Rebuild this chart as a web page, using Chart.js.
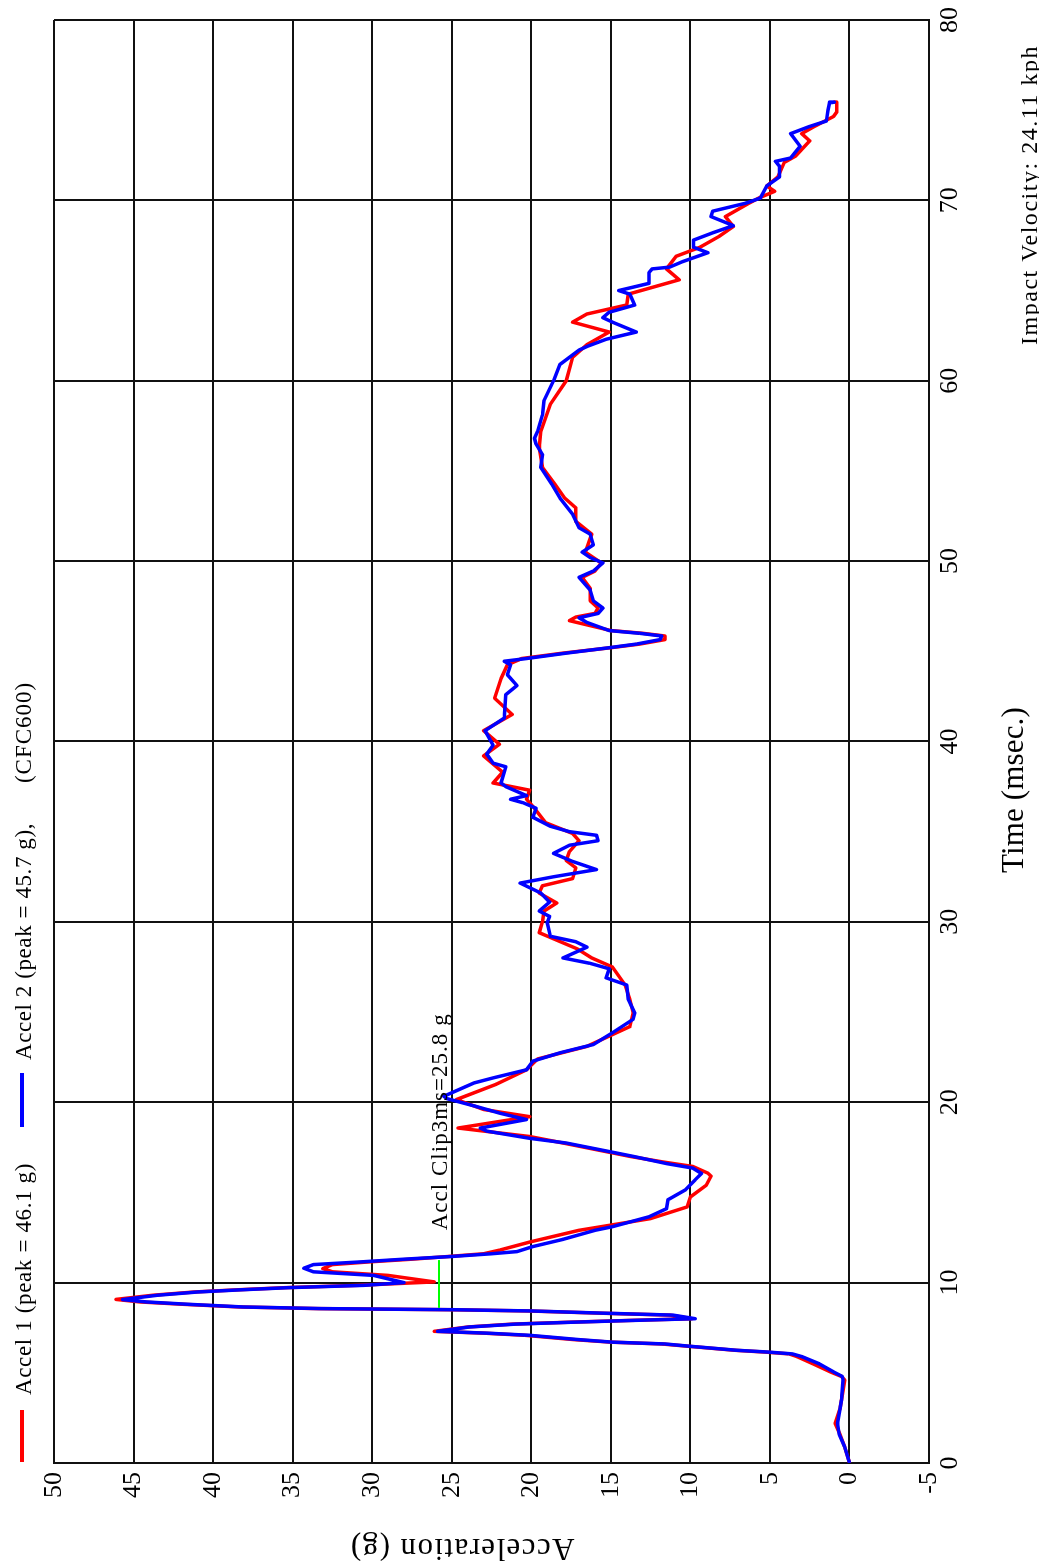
<!DOCTYPE html>
<html>
<head>
<meta charset="utf-8">
<script src="https://cdn.jsdelivr.net/npm/chart.js@4.4.1/dist/chart.umd.min.js"></script>
<style>
  html, body { margin: 0; padding: 0; background: #fff; overflow: hidden; }
  /* the chart is drawn landscape, then turned a quarter counter-clockwise */
  #frame {
    position: absolute; left: 0; top: 0;
    width: 1566px; height: 1039px;
    transform-origin: 0 0;
    transform: translateY(1566px) rotate(-90deg);
  }
</style>
</head>
<body>
<div id="frame"><canvas id="chart" width="1566" height="1039"></canvas></div>
<script>
// [time ms, acceleration g]
const accel1 = [
  [0, 0], [0.9, 0.3], [1.6, 0.6], [2.2, 0.9], [3.0, 0.6], [3.5, 0.5], [4.6, 0.3], [4.8, 0.5],
  [5.05, 1.2], [5.5, 2.3], [5.9, 3.3], [6.05, 3.8], [6.15, 5.3], [6.25, 7.2], [6.47, 10.1],
  [6.6, 11.8], [6.7, 15.0], [6.84, 17.3], [7.08, 20.4], [7.2, 23.0], [7.3, 26.1], [7.54, 24.0],
  [7.7, 21.2], [7.8, 17.8], [7.9, 14.0], [8.0, 9.9], [8.2, 11.3], [8.3, 15.4], [8.43, 20.2],
  [8.5, 25.2], [8.56, 33.4], [8.65, 38.3], [8.8, 41.9], [8.93, 44.6], [9.07, 46.1], [9.3, 43.8],
  [9.48, 41.2], [9.6, 38.5], [9.72, 35.5], [9.85, 30.9], [10.04, 26.1], [10.4, 29.0],
  [10.6, 32.5], [10.78, 33.1], [11.0, 32.5], [11.15, 30.2], [11.3, 27.5], [11.45, 25.2],
  [11.6, 23.0], [11.8, 22.0], [12.25, 20.1], [12.9, 17.0], [13.55, 12.5], [14.2, 10.2],
  [14.75, 10.0], [15.4, 9.0], [15.9, 8.7], [16.07, 8.9], [16.44, 9.85], [16.7, 11.8],
  [17.0, 13.8], [17.3, 15.5], [17.74, 18.0], [18.1, 20.1], [18.57, 24.6], [19.2, 20.1],
  [19.6, 23.0], [20.15, 24.7], [21.0, 22.2], [21.8, 20.3], [22.4, 19.6], [23.1, 16.5],
  [24.2, 13.8], [24.96, 13.6], [25.7, 13.8], [26.5, 14.1], [27.5, 14.9], [28.0, 16.2],
  [28.5, 17.1], [29.4, 19.5], [30.0, 19.3], [30.6, 19.2], [31.05, 18.4], [31.6, 19.5],
  [32.0, 19.3], [32.4, 17.4], [33.0, 17.2], [33.4, 17.8], [33.9, 17.6], [34.5, 17.0],
  [34.9, 17.4], [35.5, 19.1], [36.3, 19.8], [36.8, 20.3], [37.3, 20.1], [37.7, 22.4],
  [38.3, 21.8], [39.2, 23.0], [39.85, 22.0], [40.6, 23.0], [41.5, 21.2], [42.4, 22.3],
  [43.5, 21.9], [44.25, 21.5], [44.6, 20.6], [44.9, 18.0], [45.2, 15.0], [45.4, 13.2],
  [45.65, 11.6], [45.85, 11.6], [46.0, 13.0], [46.15, 15.0], [46.7, 17.6], [46.9, 17.2],
  [47.1, 16.0], [47.4, 15.8], [47.8, 16.3], [48.5, 16.3], [49.1, 16.8], [49.45, 16.0],
  [49.9, 15.6], [50.5, 16.6], [51.5, 16.2], [52.2, 17.2], [52.95, 17.2], [53.5, 17.9],
  [54.25, 18.5], [55.2, 19.3], [56.3, 19.5], [57.2, 19.4], [58.7, 18.8], [60.0, 17.8],
  [61.3, 17.4], [62.0, 16.5], [62.7, 15.1], [63.25, 17.4], [63.7, 16.5], [64.2, 14.0],
  [64.8, 13.9], [65.6, 10.7], [66.2, 11.5], [66.9, 10.9], [67.4, 9.4], [68.0, 8.2],
  [68.55, 7.3], [69.1, 7.8], [69.85, 6.3], [70.13, 5.7], [70.5, 4.7], [70.8, 5.2],
  [71.3, 4.5], [72.1, 4.1], [72.45, 3.4], [73.3, 2.5], [73.7, 3.0], [74.1, 2.2],
  [74.65, 1.0], [74.9, 0.8], [75.4, 0.8], [75.45, 1.0],
];

const accel2 = [
  [0, 0], [0.9, 0.3], [1.6, 0.65], [2.2, 0.75], [3.0, 0.6], [3.5, 0.5], [4.6, 0.4], [4.8, 0.45],
  [5.05, 1.0], [5.5, 1.9], [5.9, 3.0], [6.05, 3.6], [6.15, 5.1], [6.25, 7.1], [6.47, 10],
  [6.6, 11.6], [6.7, 14.9], [6.84, 17], [7.08, 20.1], [7.2, 22.8], [7.3, 25.9], [7.54, 23.9],
  [7.7, 21], [7.8, 17.6], [7.9, 13.8], [8.0, 9.7], [8.2, 11.1], [8.3, 15.2], [8.43, 20],
  [8.5, 25], [8.56, 33.2], [8.65, 38.1], [8.8, 41.6], [8.93, 44.2], [9.06, 45.7], [9.3, 43.5],
  [9.48, 41], [9.6, 38.3], [9.72, 35.3], [9.85, 30.5], [10.0, 28.0], [10.4, 29.9],
  [10.6, 33.7], [10.8, 34.3], [11.0, 33.7], [11.15, 30.7], [11.3, 28.0], [11.45, 25.0],
  [11.6, 22.5], [11.72, 20.9], [12.0, 19.9], [12.4, 18.0], [12.9, 16.0], [13.1, 14.9],
  [13.65, 12.6], [14.1, 11.5], [14.6, 11.4], [15.15, 10.3], [15.7, 9.7], [16.05, 9.3],
  [16.35, 9.85], [16.6, 11.5], [17.0, 13.6], [17.3, 15.3], [17.74, 17.8], [18.0, 20.1],
  [18.4, 22.8], [18.57, 23.2], [19.04, 20.3], [19.4, 22.0], [19.8, 23.6], [20.2, 25.3],
  [20.33, 25.5], [21.07, 23.6], [21.35, 22.4], [21.8, 20.3], [22.28, 19.9], [22.74, 18.2],
  [23.2, 16.1], [23.85, 14.9], [24.6, 13.6], [24.96, 13.5], [25.7, 13.9], [26.5, 14.0],
  [26.9, 15.3], [27.4, 15.1], [27.7, 16.3], [28.0, 18.0], [28.6, 16.5], [28.9, 17.2],
  [29.2, 18.8], [29.95, 19.0], [30.3, 18.85], [30.6, 19.5], [31.1, 18.85], [31.6, 19.4],
  [32.15, 20.7], [32.5, 18.6], [32.9, 15.9], [33.35, 17.4], [33.8, 18.6], [34.25, 17.6],
  [34.5, 15.8], [34.8, 15.9], [35.0, 17.6], [35.3, 18.8], [35.8, 19.9], [36.3, 19.7],
  [36.6, 20.5], [36.8, 21.3], [37.0, 20.3], [37.5, 21.6], [37.7, 21.9], [38.6, 21.6],
  [38.8, 22.4], [39.3, 22.8], [39.8, 22.4], [40.6, 22.9], [41.3, 21.7], [42.6, 21.6],
  [43.1, 20.9], [43.7, 21.5], [44.25, 21.3], [44.45, 21.7], [44.6, 20.3], [44.9, 17.8],
  [45.2, 15.1], [45.4, 13.4], [45.65, 11.9], [45.85, 11.8], [46.0, 13.2], [46.15, 15.1],
  [46.6, 16.5], [46.86, 17.0], [47.1, 15.8], [47.4, 15.5], [47.8, 16.1], [48.4, 16.3],
  [49.1, 17.0], [49.45, 16.1], [49.9, 15.5], [50.2, 16.3], [50.5, 16.8], [50.9, 16.1],
  [51.5, 16.3], [51.85, 17.0], [52.6, 17.4], [53.5, 18.2], [54.25, 18.7], [55.2, 19.4],
  [55.9, 19.3], [56.5, 19.7], [56.8, 19.8], [57.2, 19.6], [58.1, 19.3], [58.9, 19.2],
  [60.0, 18.6], [60.9, 18.2], [61.7, 17.0], [61.9, 16.5], [62.3, 15.3], [62.7, 13.4],
  [63.25, 14.9], [63.5, 15.5], [63.8, 15.1], [64.2, 13.5], [64.8, 13.8], [65.0, 14.5],
  [65.4, 12.6], [66.0, 12.6], [66.2, 12.4], [66.3, 11.3], [66.6, 10.5], [67.1, 8.9],
  [67.4, 9.8], [67.8, 9.8], [68.2, 8.6], [68.6, 7.3], [69.1, 8.7], [69.4, 8.6],
  [69.85, 6.5], [70.13, 5.6], [70.8, 5.2], [71.3, 4.4], [71.9, 4.4], [72.16, 4.65],
  [72.35, 3.7], [73.0, 3.1], [73.7, 3.7], [74.1, 2.5], [74.4, 1.45], [75.0, 1.35],
  [75.4, 1.25], [75.45, 0.95],
];

// 3 ms clip marker
const clipLevel = 25.8;
const clipSpan = [8.6, 11.25];

const legendLabels = ['Accel 1 (peak = 46.1 g)', 'Accel 2 (peak = 45.7 g),', '(CFC600)'];
const clipLabel = 'Accl Clip3ms=25.8 g';
const velocityLabel = 'Impact Velocity: 24.11 kph';

const FONT = "'Liberation Serif', 'Times New Roman', serif";
const toXY = (rows) => rows.map(([t, g]) => ({ x: t, y: g }));

// text stretched to a given width with letter spacing (the original font is wide)
function fitText(ctx, text, x, y, width, size, align = 'left') {
    ctx.font = `${size}px ${FONT}`;
    ctx.letterSpacing = '0px';
    const w = ctx.measureText(text).width;
    const gap = Math.max(0, (width - w) / text.length);
    ctx.letterSpacing = `${gap}px`;
    const full = w + gap * text.length;
    ctx.textAlign = 'left';
    let sx = x;
    if (align === 'center') sx = x - full / 2;
    if (align === 'right') sx = x - full;
    ctx.fillText(text, sx, y);
    ctx.letterSpacing = '0px';
}

const annotations = {
    id: 'crashAnnotations',
    afterDraw(chart) {
        const { ctx, scales } = chart;
        const x = scales.x;
        const y = scales.y;
        ctx.save();
        ctx.fillStyle = '#000';
        ctx.textBaseline = 'alphabetic';

        // legend
        ctx.lineWidth = 4;
        ctx.strokeStyle = '#ff0000';
        ctx.beginPath(); ctx.moveTo(104, 22); ctx.lineTo(156, 22); ctx.stroke();
        ctx.strokeStyle = '#0000ff';
        ctx.beginPath(); ctx.moveTo(439, 22); ctx.lineTo(493, 22); ctx.stroke();
        fitText(ctx, legendLabels[0], 171, 31, 232, 23);
        fitText(ctx, legendLabels[1], 506, 31, 237, 23);
        fitText(ctx, legendLabels[2], 783, 31, 101, 23);

        // clip label next to the marker
        fitText(ctx, clipLabel, x.getPixelForValue(12.9), y.getPixelForValue(clipLevel) + 8, 217, 23);

        // axis titles
        ctx.textBaseline = 'middle';
        fitText(ctx, 'Time (msec.)', 776, 1015, 166, 31, 'center');
        fitText(ctx, velocityLabel, 1521, 1031, 300, 24, 'right');
        ctx.save();
        ctx.translate(19, 462);
        ctx.rotate(-Math.PI / 2);
        fitText(ctx, 'Acceleration (g)', 0, 0, 225, 31, 'center');
        ctx.restore();

        ctx.restore();
    },
};

const tickFont = { family: FONT, size: 26 };

new Chart(document.getElementById('chart'), {
    type: 'line',
    data: {
        datasets: [
            {
                label: 'Clip 3ms',
                data: toXY(clipSpan.map((t) => [t, clipLevel])),
                borderColor: '#00ff00',
                borderWidth: 2,
                pointRadius: 0,
                order: 0,
            },
            {
                label: legendLabels[1],
                data: toXY(accel2),
                borderColor: '#0000ff',
                borderWidth: 3.5,
                borderJoinStyle: 'round',
                pointRadius: 0,
                tension: 0,
                order: 1,
            },
            {
                label: legendLabels[0],
                data: toXY(accel1),
                borderColor: '#ff0000',
                borderWidth: 3.5,
                borderJoinStyle: 'round',
                pointRadius: 0,
                tension: 0,
                order: 2,
            },
        ],
    },
    options: {
        responsive: false,
        animation: false,
        devicePixelRatio: 1,
        layout: { padding: { left: 0, right: 20, top: 54, bottom: 0 } },
        plugins: {
            legend: { display: false },
            tooltip: { enabled: false },
        },
        scales: {
            x: {
                type: 'linear',
                min: 0,
                max: 80,
                ticks: { stepSize: 10, padding: 6, color: '#000', font: tickFont, maxRotation: 0, autoSkip: false },
                grid: { color: '#111', lineWidth: 2, drawTicks: false },
                border: { color: '#111', width: 2 },
                afterFit(scale) { scale.height = 110; },
            },
            y: {
                min: -5,
                max: 50,
                ticks: { stepSize: 5, padding: 9, color: '#000', font: tickFont, autoSkip: false },
                grid: { color: '#111', lineWidth: 2, drawTicks: false },
                border: { color: '#111', width: 2 },
                afterFit(scale) { scale.width = 103; },
            },
        },
    },
    plugins: [annotations],
});
</script>
</body>
</html>
